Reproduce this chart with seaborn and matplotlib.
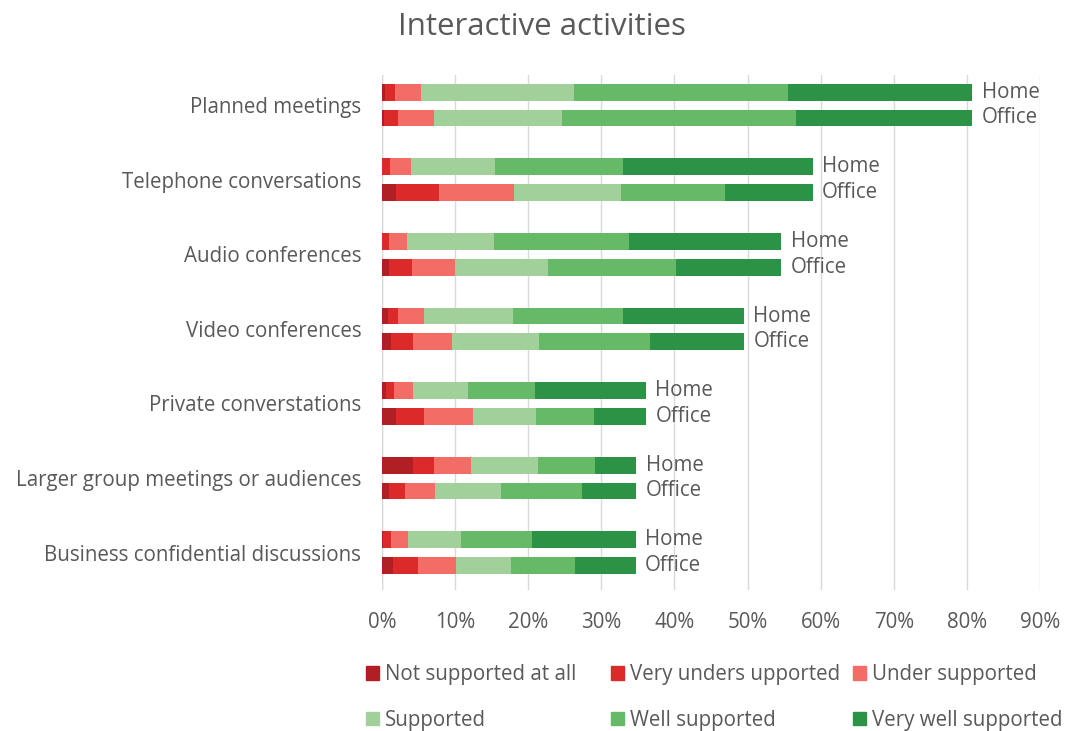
import numpy as np
import pandas as pd
import matplotlib
matplotlib.use("Agg")
import matplotlib.pyplot as plt
from matplotlib.patches import Patch
import seaborn as sns

# Data (percent of respondents)
categories = ["Planned meetings", "Telephone conversations", "Audio conferences",
              "Video conferences", "Private converstations",
              "Larger group meetings or audiences", "Business confidential discussions"]
locations = ["Home", "Office"]
levels = ["Not supported at all", "Very unders upported", "Under supported",
          "Supported", "Well supported", "Very well supported"]

home_not = [0.4, 0.0, 0.0, 0.8, 0.6, 4.3, 0.2]
home_very_under = [1.4, 1.15, 1.0, 1.4, 1.0, 2.8, 1.1]
home_under = [3.6, 2.85, 2.4, 3.5, 2.7, 5.1, 2.3]
home_supported = [20.8, 11.5, 11.9, 12.2, 7.5, 9.1, 7.2]
home_well = [29.3, 17.5, 18.5, 15.1, 9.1, 7.8, 9.7]
home_very_well = [25.2, 25.9, 20.8, 16.5, 15.2, 5.7, 14.2]

office_not = [0.3, 1.9, 1.0, 1.2, 1.9, 1.0, 1.5]
office_very_under = [1.9, 5.9, 3.1, 3.0, 3.9, 2.2, 3.4]
office_under = [4.9, 10.2, 5.9, 5.4, 6.6, 4.1, 5.2]
office_supported = [17.5, 14.7, 12.7, 11.9, 8.7, 9.0, 7.5]
office_well = [32.0, 14.2, 17.5, 15.1, 7.9, 11.0, 8.8]
office_very_well = [24.1, 12.0, 14.4, 12.9, 7.1, 7.5, 8.3]

colors = ["#B01F24", "#DC2A2A", "#F36C66", "#A1D09B", "#66B966", "#2C9346"]

home = np.array([home_not, home_very_under, home_under, home_supported, home_well, home_very_well])
office = np.array([office_not, office_very_under, office_under, office_supported, office_well, office_very_well])

# long table with cumulative values for layered (stacked) bars
rows = []
for loc, arr in (("Home", home), ("Office", office)):
    cum = np.cumsum(arr, axis=0)
    for i, cat in enumerate(categories):
        for j, lev in enumerate(levels):
            rows.append({"category": cat, "location": loc, "level": lev, "cum": cum[j, i]})
df = pd.DataFrame(rows)

sns.set_theme(style="white")
plt.rcParams["font.family"] = ["Open Sans", "DejaVu Sans"]
text_color = "#595959"
fs = 14.8

fig = plt.figure(figsize=(10.67, 7.31), dpi=100)
ax = fig.add_axes([0.358, 0.193, 0.6167, 0.704])

# draw from the outermost cumulative level inward so each segment shows
for j in range(len(levels) - 1, -1, -1):
    sub = df[df["level"] == levels[j]]
    sns.barplot(data=sub, x="cum", y="category", hue="location", hue_order=locations,
                order=categories, orient="h", palette=[colors[j], colors[j]],
                width=0.69, gap=0.35, dodge=True, legend=False, ax=ax,
                linewidth=0, saturation=1)

# Home / Office labels at bar ends
totals_home = home.sum(axis=0)
totals_office = office.sum(axis=0)
for i in range(len(categories)):
    ax.text(totals_home[i] + 1.3, i - 0.1725, "Home", va="center", ha="left",
            fontsize=fs, color=text_color)
    ax.text(totals_office[i] + 1.3, i + 0.1725, "Office", va="center", ha="left",
            fontsize=fs, color=text_color)

ax.set_xlim(0, 90)
ax.set_ylim(6.5, -0.4)
ax.set_xticks(np.arange(0, 91, 10))
ax.set_xticklabels([f"{v}%" for v in range(0, 91, 10)])
ax.xaxis.grid(True, color="#D9D9D9", linewidth=1)
ax.yaxis.grid(False)
ax.set_axisbelow(True)
for s in ax.spines.values():
    s.set_visible(False)
ax.set_xlabel("")
ax.set_ylabel("")
ax.tick_params(axis="y", length=0, pad=15, labelsize=fs, labelcolor=text_color)
ax.tick_params(axis="x", length=0, pad=16, labelsize=fs, labelcolor=text_color)
ax.axvline(0, color="#D9D9D9", linewidth=1, zorder=0)

fig.suptitle("Interactive activities", x=0.508, y=0.984, fontsize=22.5, color=text_color)

# legend: three equal-width columns, two rows each
handles = [Patch(color=c) for c in colors]
col_x = [358, 603, 845]
for c in range(3):
    leg = fig.legend([handles[c], handles[c + 3]], [levels[c], levels[c + 3]],
                     loc="upper left", bbox_to_anchor=(col_x[c] / 1067, 1 - 656 / 731),
                     frameon=False, fontsize=fs, labelcolor=text_color,
                     handlelength=0.6, handleheight=0.6, handletextpad=0.3,
                     labelspacing=1.2, borderaxespad=0)

fig.savefig("out.png", dpi=100)
